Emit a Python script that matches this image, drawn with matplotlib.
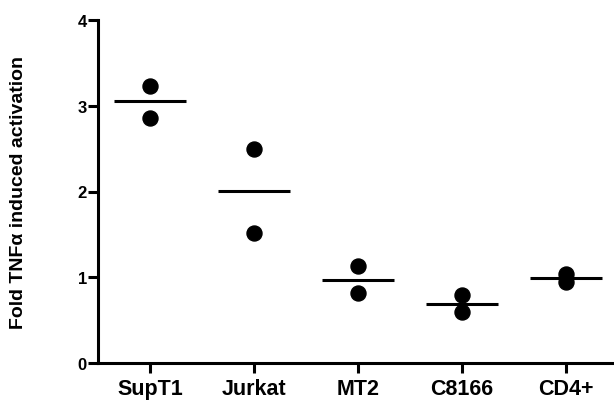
import matplotlib
matplotlib.use("Agg")
import matplotlib.pyplot as plt
import numpy as np

plt.rcParams['font.family'] = ['Liberation Sans', 'DejaVu Sans']

categories = ["SupT1", "Jurkat", "MT2", "C8166", "CD4+"]
points = [[3.23, 2.86], [2.50, 1.52], [1.13, 0.82], [0.79, 0.59], [1.04, 0.95]]
means = [3.05, 2.01, 0.97, 0.69, 0.99]
yticks = [0, 1, 2, 3, 4]

fig = plt.figure(figsize=(6.14, 4.02), dpi=100)
ax = fig.add_axes([98/614, 38/402, 1 - 98/614, 343/402])

for i, (pts, m) in enumerate(zip(points, means)):
    ax.plot([i] * len(pts), pts, 'o', color='black', markersize=10.8, zorder=3)
    ax.plot([i - 0.345, i + 0.345], [m, m], color='black', lw=2.2, solid_capstyle='butt', zorder=2)

ax.set_xlim(-0.5, 4.46)
ax.set_ylim(0, 4)
ax.set_xticks(range(len(categories)))
ax.set_xticklabels(categories, fontsize=15.5, fontweight='bold')
ax.set_yticks(yticks)
ax.set_yticklabels([str(t) for t in yticks], fontsize=12, fontweight='bold')
ax.set_ylabel("Fold TNF\u03b1 induced activation", fontsize=14, fontweight='bold')
ax.yaxis.set_label_coords(-0.1376, 0.5)

for s in ['top', 'right']:
    ax.spines[s].set_visible(False)
for s in ['left', 'bottom']:
    ax.spines[s].set_linewidth(2.2)
ax.tick_params(axis='both', direction='out', length=7, width=2.2)
ax.tick_params(axis='x', pad=3.5)
ax.tick_params(axis='y', pad=1)

fig.savefig("out.png", dpi=100)
